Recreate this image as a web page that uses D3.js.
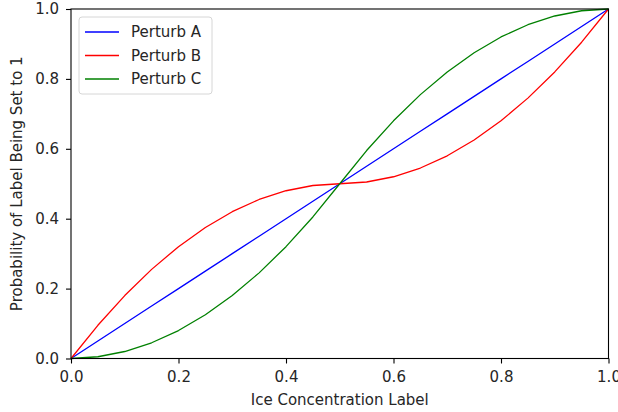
<!DOCTYPE html>
<html>
<head>
<meta charset="utf-8">
<script src="https://cdn.jsdelivr.net/npm/d3@7"></script>
<style>
    body { margin: 0; background: #fff; }
    svg { display: block; font-family: "DejaVu Sans", sans-serif; }
</style>
</head>
<body>
<svg></svg>
<script>
// values, x step 0.05
let xValues = [0, 0.05, 0.1, 0.15, 0.2, 0.25, 0.3, 0.35, 0.4, 0.45, 0.5,
    0.55, 0.6, 0.65, 0.7, 0.75, 0.8, 0.85, 0.9, 0.95, 1];
let perturbA = [0, 0.05, 0.1, 0.15, 0.2, 0.25, 0.3, 0.35, 0.4, 0.45, 0.5,
    0.55, 0.6, 0.65, 0.7, 0.75, 0.8, 0.85, 0.9, 0.95, 1];
let perturbB = [0, 0.095, 0.18, 0.255, 0.32, 0.375, 0.42, 0.455, 0.48, 0.495, 0.5,
    0.505, 0.52, 0.545, 0.58, 0.625, 0.68, 0.745, 0.82, 0.905, 1];
let perturbC = [0, 0.005, 0.02, 0.045, 0.08, 0.125, 0.18, 0.245, 0.32, 0.405, 0.5,
    0.595, 0.68, 0.755, 0.82, 0.875, 0.92, 0.955, 0.98, 0.995, 1];
let seriesNames = ["Perturb A", "Perturb B", "Perturb C"];
let seriesColors = ["#0000ff", "#ff0000", "#008000"];
let tickValues = [0, 0.2, 0.4, 0.6, 0.8, 1.0];

drawChart();

function drawChart() {
    let svgWidth = 618, svgHeight = 412;
    let margin = { top: 9, right: 9.5, bottom: 53.5, left: 71 };
    let width = svgWidth - margin.left - margin.right;
    let height = svgHeight - margin.top - margin.bottom;

    let svg = d3.select('svg')
        .attr("width", svgWidth)
        .attr("height", svgHeight);

    let g = svg.append("g")
        .attr("transform", "translate(" + margin.left + "," + margin.top + ")");

    let x = d3.scaleLinear().domain([0, 1]).range([0, width]);
    let y = d3.scaleLinear().domain([0, 1]).range([height, 0]);

    let series = [perturbA, perturbB, perturbC];

    let line = d3.line()
        .x(function (d, i) { return x(xValues[i]) })
        .y(function (d) { return y(d) });

    g.selectAll(".series")
        .data(series)
        .enter().append("path")
        .attr("class", "series")
        .attr("fill", "none")
        .attr("stroke", function (d, i) { return seriesColors[i] })
        .attr("stroke-width", 1.3)
        .attr("stroke-linejoin", "round")
        .attr("stroke-linecap", "butt")
        .attr("d", line);

    let xAxis = g.append("g")
        .attr("transform", "translate(0," + height + ")")
        .call(d3.axisBottom(x).tickValues(tickValues).tickSize(5).tickPadding(8)
            .tickFormat(d3.format(".1f")));

    let yAxis = g.append("g")
        .call(d3.axisLeft(y).tickValues(tickValues).tickSize(5).tickPadding(7)
            .tickFormat(d3.format(".1f")));

    [xAxis, yAxis].forEach(function (a) {
        a.select(".domain").remove();
        a.selectAll("line").attr("stroke", "#000").attr("stroke-width", 1.1);
        a.selectAll("text")
            .attr("fill", "#262626")
            .style("font-size", "15px")
            .style("font-family", "DejaVu Sans");
    });

    // frame
    g.append("rect")
        .attr("width", width)
        .attr("height", height)
        .attr("fill", "none")
        .attr("stroke", "#000")
        .attr("stroke-width", 1.1);

    g.append("text")
        .attr("x", width / 2)
        .attr("y", height + 46.5)
        .attr("text-anchor", "middle")
        .attr("fill", "#262626")
        .style("font-size", "15px")
        .text("Ice Concentration Label");

    g.append("text")
        .attr("transform", "translate(" + (22 - margin.left) + "," + (height / 2) + ") rotate(-90)")
        .attr("text-anchor", "middle")
        .attr("fill", "#262626")
        .style("font-size", "15px")
        .text("Probability of Label Being Set to 1");

    // legend
    let legend = g.append("g")
        .attr("transform", "translate(8,8)");

    legend.append("rect")
        .attr("width", 133)
        .attr("height", 77)
        .attr("rx", 3)
        .attr("fill", "#fff")
        .attr("fill-opacity", 0.8)
        .attr("stroke", "#d6d6d6")
        .attr("stroke-width", 1);

    let rows = legend.selectAll(".row")
        .data(seriesNames)
        .enter().append("g")
        .attr("class", "row")
        .attr("transform", function (d, i) { return "translate(0," + (15 + i * 23.5) + ")" });

    rows.append("line")
        .attr("x1", 6)
        .attr("x2", 40)
        .attr("stroke", function (d, i) { return seriesColors[i] })
        .attr("stroke-width", 1.3);

    rows.append("text")
        .attr("x", 52)
        .attr("dy", "0.36em")
        .attr("fill", "#262626")
        .style("font-size", "15px")
        .text(function (d) { return d });
}
</script>
</body>
</html>
